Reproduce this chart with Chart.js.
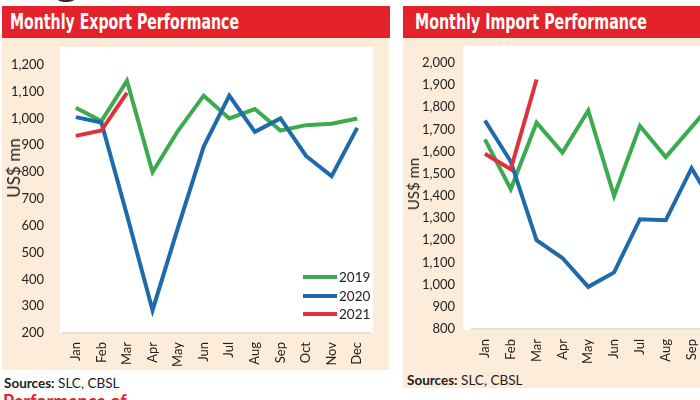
<!DOCTYPE html>
<html>
<head>
<meta charset="utf-8">
<script src="https://cdn.jsdelivr.net/npm/chart.js@4.4.1/dist/chart.umd.min.js"></script>
<style>
  html, body { margin:0; padding:0; background:#ffffff; }
  body { width:700px; height:400px; overflow:hidden; position:relative; font-family: Lato, "Open Sans", sans-serif; color:#222; }
  .abs { position:absolute; }
  .hdr { background:#e4222b; overflow:hidden; }
  .hdr span { position:absolute; left:8px; top:3px; color:#fff; font-family:"Liberation Sans Narrow","DejaVu Sans Condensed",Roboto,sans-serif; font-weight:bold; font-size:22px; line-height:26px; white-space:nowrap; transform-origin:0 50%; }
  .beige { background:#fcecd9; }
  .white { background:#ffffff; }
  .ytitle { font-size:16px; line-height:16px; white-space:nowrap; transform:translate(-50%,-50%) rotate(-90deg); color:#222; }
  .leg { font-size:13.5px; line-height:14px; white-space:nowrap; color:#222; }
  .leg i { position:absolute; width:34px; height:4px; }
  .src { font-size:13.5px; line-height:16px; white-space:nowrap; color:#222; }
  .perf { font-size:18px; line-height:18px; font-weight:bold; color:#e3262e; white-space:nowrap; }
  #clip2 { position:absolute; left:403px; top:0; width:297px; height:400px; overflow:hidden; }
</style>
</head>
<body>
<script>
// ---------- data ----------
const months = ['Jan','Feb','Mar','Apr','May','Jun','Jul','Aug','Sep','Oct','Nov','Dec'];
const seriesNames = ['2019','2020','2021'];
const export2019 = [1040, 990, 1140, 800, 955, 1085, 1000, 1035, 955, 975, 980, 1000];
const export2020 = [1005, 985, 640, 285, 595, 895, 1085, 950, 1000, 860, 785, 965];
const export2021 = [935, 955, 1095, null, null, null, null, null, null, null, null, null];
const import2019 = [1655, 1430, 1730, 1595, 1785, 1400, 1715, 1575, 1710, 1845, null, null];
const import2020 = [1740, 1555, 1200, 1120, 990, 1055, 1295, 1290, 1525, 1330, null, null];
const import2021 = [1590, 1520, 1925, null, null, null, null, null, null, null, null, null];
const exportTicks = {min:200, max:1200, step:100};
const importTicks = {min:800, max:2000, step:100};
</script>

<!-- small dark fragment at top -->
<div class="abs" style="left:56px;top:-7px;width:20px;height:9px;border-radius:50%;background:#2b2b2b"></div>

<!-- Left panel -->
<div class="abs hdr" style="left:2px;top:6px;width:388px;height:32px"><span id="t1" data-w="229">Monthly Export Performance</span></div>
<div class="abs beige" style="left:2px;top:38px;width:387px;height:332px"></div>
<div class="abs white" style="left:60px;top:47px;width:313px;height:286px"></div>
<canvas id="c1" class="abs" style="left:0;top:38px;width:390px;height:332px" width="390" height="332"></canvas>
<div class="abs ytitle" style="left:14px;top:168px;font-size:17px">US$ mn</div>
<div class="abs leg" style="left:303px;top:270px;width:70px;height:54px">
  <i style="left:0;top:5px;background:#3cab4e"></i><span style="position:absolute;left:36px;top:0">2019</span>
  <i style="left:0;top:24px;background:#1f6aab"></i><span style="position:absolute;left:36px;top:19px">2020</span>
  <i style="left:0;top:42px;background:#e0323b"></i><span style="position:absolute;left:36px;top:37px">2021</span>
</div>
<div class="abs src" style="left:4px;top:375px"><b>Sources:</b> SLC, CBSL</div>
<div class="abs perf" style="left:3px;top:392px">Performance of</div>

<!-- Right panel (cropped at page edge) -->
<div id="clip2">
  <div class="abs hdr" style="left:0;top:6px;width:400px;height:32px"><span id="t2" data-w="232" style="left:12px">Monthly Import Performance</span></div>
  <div class="abs beige" style="left:0;top:38px;width:400px;height:350px"></div>
  <div class="abs white" style="left:60px;top:46px;width:330px;height:284px"></div>
  <canvas id="c2" class="abs" style="left:0;top:38px;width:399px;height:330px" width="399" height="330"></canvas>
  <div class="abs ytitle" style="left:10px;top:184px;font-size:15px">US$ mn</div>
  <div class="abs src" style="left:4px;top:372px"><b>Sources:</b> SLC, CBSL</div>
</div>

<script>
// fit header titles to measured widths
['t1','t2'].forEach(id => {
  const el = document.getElementById(id);
  const w = el.getBoundingClientRect().width;
  const target = parseFloat(el.dataset.w);
  if (w > 0) el.style.transform = 'scaleX(' + (target / w) + ')';
});

const colors = {'2019':'#3cab4e', '2020':'#1f6aab', '2021':'#e0323b'};
const tickFont = {family:'Lato', size:13};

function makeChart(canvasId, series, ticksCfg, yWidth, xHeight, padTop, padRight, yPad, xPad) {
  const datasets = series.map((d, i) => ({
    label: seriesNames[i],
    data: d,
    borderColor: colors[seriesNames[i]],
    backgroundColor: colors[seriesNames[i]],
    borderWidth: 4,
    pointRadius: 0,
    pointHoverRadius: 0,
    tension: 0,
    fill: false,
    spanGaps: false,
    order: 2 - i
  }));
  return new Chart(document.getElementById(canvasId), {
    type: 'line',
    data: { labels: months, datasets: datasets },
    options: {
      responsive: false,
      animation: false,
      devicePixelRatio: 1,
      layout: { padding: { top: padTop, right: padRight, left: 0, bottom: 0 } },
      plugins: { legend: { display: false }, tooltip: { enabled: false }, title: { display: false } },
      scales: {
        x: {
          type: 'category',
          offset: true,
          grid: { display: false, drawTicks: false, tickLength: 0 },
          border: { display: true, color: '#e3e0dc', width: 2 },
          ticks: { color: '#222', font: tickFont, minRotation: 90, maxRotation: 90, autoSkip: false, padding: xPad },
          afterFit: s => { s.height = xHeight; }
        },
        y: {
          min: ticksCfg.min,
          max: ticksCfg.max,
          grid: { display: false, drawTicks: false, tickLength: 0 },
          border: { display: false },
          ticks: {
            stepSize: ticksCfg.step,
            color: '#222',
            font: tickFont,
            padding: yPad,
            callback: v => Number(v).toLocaleString('en-US')
          },
          afterFit: s => { s.width = yWidth; }
        }
      }
    }
  });
}

makeChart('c1', [export2019, export2020, export2021], exportTicks, 63, 37, 14, 20, 19, 9);
makeChart('c2', [import2019, import2020, import2021], importTicks, 69, 39, 16, 20, 17, 10);
</script>
</body>
</html>
